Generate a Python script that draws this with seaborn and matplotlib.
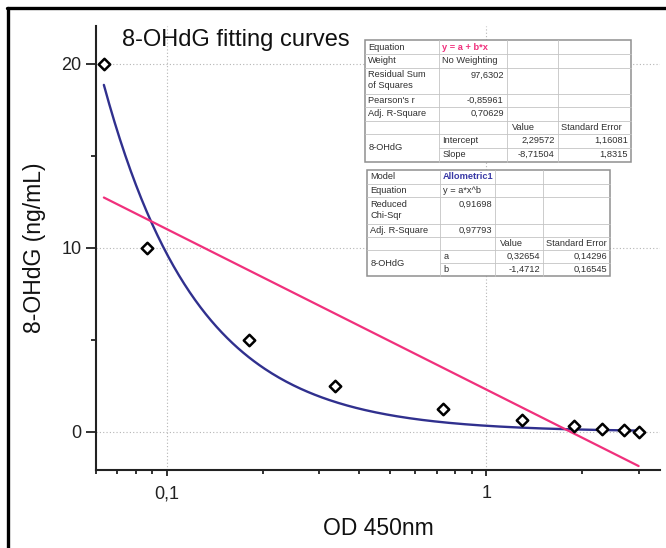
import numpy as np
import pandas as pd
import matplotlib
matplotlib.use("Agg")
import matplotlib.pyplot as plt
import seaborn as sns
from matplotlib import ticker
from matplotlib.patches import Rectangle
from matplotlib.lines import Line2D
from matplotlib.transforms import Affine2D

# ---------------- data ----------------
od450 = [0.0635, 0.0866, 0.181, 0.335, 0.734, 1.29, 1.88, 2.30, 2.70, 3.00]
conc = [20, 10, 5, 2.5, 1.25, 0.625, 0.3125, 0.156, 0.078, 0]

# fit parameters (as printed in the tables)
lin_intercept = 2.29572
lin_slope = -8.71504
allo_a = 0.32654
allo_b = -1.4712

x_ticks = [0.1, 1]
x_tick_labels = ["0,1", "1"]
y_ticks = [0, 10, 20]

# table 1 (linear fit)
t1_labels = ["Equation", "Weight", "Residual Sum\nof Squares", "Pearson's r", "Adj. R-Square"]
t1_values = ["y = a + b*x", "No Weighting", "97,6302", "-0,85961", "0,70629"]
t1_head = ["Value", "Standard Error"]
t1_group = "8-OHdG"
t1_pnames = ["Intercept", "Slope"]
t1_pvalues = ["2,29572", "-8,71504"]
t1_perrors = ["1,16081", "1,8315"]

# table 2 (allometric fit)
t2_labels = ["Model", "Equation", "Reduced\nChi-Sqr", "Adj. R-Square"]
t2_values = ["Allometric1", "y = a*x^b", "0,91698", "0,97793"]
t2_head = ["Value", "Standard Error"]
t2_group = "8-OHdG"
t2_pnames = ["a", "b"]
t2_pvalues = ["0,32654", "-1,4712"]
t2_perrors = ["0,14296", "0,16545"]

PINK = "#f0307c"
NAVY = "#30308e"
W, H = 666, 548

sns.set_theme(style="white")
plt.rcParams["font.family"] = ["Liberation Sans", "DejaVu Sans"]

fig = plt.figure(figsize=(W / 100, H / 100), dpi=100)
ax = fig.add_axes([96 / W, 1 - 469.5 / H, 564 / W, 443.5 / H])
ax.set_xscale("log")

x_fit = np.logspace(np.log10(min(od450)), np.log10(max(od450)), 300)
fit_df = pd.DataFrame({
    "x": x_fit,
    "allometric": allo_a * x_fit ** allo_b,
    "linear": lin_intercept + lin_slope * np.log10(x_fit),
})
pts_df = pd.DataFrame({"od": od450, "conc": conc})

ax.grid(True, which="major", ls=(0, (1, 2)), color="#b5b5b5", lw=0.8)
ax.set_axisbelow(True)

sns.lineplot(data=fit_df, x="x", y="allometric", color=NAVY, lw=1.7, ax=ax, zorder=3)
sns.lineplot(data=fit_df, x="x", y="linear", color=PINK, lw=1.6, ax=ax, zorder=3)
sns.scatterplot(data=pts_df, x="od", y="conc", marker="D", s=34, facecolor="white",
                edgecolor="black", linewidth=1.8, ax=ax, zorder=5)

ax.set_xlim(0.06, 3.5)
ax.set_ylim(-2.05, 22.05)

ax.xaxis.set_major_locator(ticker.FixedLocator(x_ticks))
ax.xaxis.set_major_formatter(ticker.FixedFormatter(x_tick_labels))
ax.xaxis.set_minor_locator(ticker.LogLocator(base=10, subs=np.arange(2, 10)))
ax.xaxis.set_minor_formatter(ticker.NullFormatter())
ax.yaxis.set_major_locator(ticker.FixedLocator(y_ticks))
ax.yaxis.set_minor_locator(ticker.FixedLocator([5, 15]))

ax.tick_params(axis="y", which="major", direction="out", length=7, width=1.3, pad=3.5,
               labelsize=13, left=True, colors="#222222")
ax.tick_params(axis="y", which="minor", direction="out", length=3.6, width=1.3, left=True,
               colors="#222222")
ax.tick_params(axis="x", which="major", direction="out", length=4.2, width=1.3, pad=7,
               labelsize=13, bottom=True, colors="#222222")
ax.tick_params(axis="x", which="minor", direction="out", length=3.2, width=1.3, bottom=True,
               colors="#222222")

for s in ["top", "right"]:
    ax.spines[s].set_visible(False)
for s in ["left", "bottom"]:
    ax.spines[s].set_linewidth(1.5)
    ax.spines[s].set_color("#222222")

ax.set_xlabel("OD 450nm", fontsize=16.5, color="#111111")
ax.set_ylabel("8-OHdG (ng/mL)", fontsize=16.5, color="#111111")
ax.xaxis.set_label_coords(0.5, -0.106)
ax.yaxis.set_label_coords(-0.088, 0.5)

# pixel transform (x from left, y from top)
PX = Affine2D().scale(1 / W, -1 / H).translate(0, 1) + fig.transFigure

fig.text(122, 46, "8-OHdG fitting curves", fontsize=17, va="baseline", ha="left",
         color="#111111", transform=PX)

# figure frame (top and left edges)
fig.add_artist(Line2D([8, 8], [8, H], lw=2.4, color="black", transform=PX))
fig.add_artist(Line2D([7, W], [8, 8], lw=2.4, color="black", transform=PX))

FS = 6.7
TXT = "#303030"


def txt(x, y, s, ha="left", **kw):
    kw.setdefault("color", TXT)
    fig.text(x, y, s, fontsize=FS, ha=ha, va="center", transform=PX, zorder=6, **kw)


def draw_table(cols, rows, labels, values, head, group, pnames, pvals, perrs,
               double_idx, value_left, value_styles):
    x0, x1 = cols[0], cols[-1]
    y0, y1 = rows[0], rows[-1]
    fig.add_artist(Rectangle((x0, y0), x1 - x0, y1 - y0, transform=PX, facecolor="white",
                             edgecolor="#8f8f8f", lw=1.1, zorder=4))
    inner = dict(color="#c4c4c4", lw=0.6, transform=PX, zorder=5)
    for c in cols[1:-1]:
        fig.add_artist(Line2D([c, c], [y0, y1], **inner))
    nrow = len(rows) - 1
    for i, r in enumerate(rows[1:-1], start=1):
        start = cols[1] if i == nrow - 1 else x0
        fig.add_artist(Line2D([start, x1], [r, r], **inner))
    pad = 3.2
    for i, (lab, val) in enumerate(zip(labels, values)):
        top, bot = rows[i], rows[i + 1]
        if i == double_idx:
            l1, l2 = lab.split("\n")
            txt(cols[0] + pad, top + 7.4, l1)
            txt(cols[0] + pad, top + 18.4, l2)
            yv = top + 7.4
        else:
            txt(cols[0] + pad, (top + bot) / 2, lab)
            yv = (top + bot) / 2
        style = value_styles.get(i, {})
        if i in value_left:
            txt(cols[1] + pad, yv, val, **style)
        else:
            txt(cols[2] - pad, yv, val, ha="right", **style)
    hi = len(labels)
    yh = (rows[hi] + rows[hi + 1]) / 2
    txt(cols[2] + 5, yh, head[0])
    txt(cols[3] + 3, yh, head[1])
    txt(cols[0] + pad, (rows[hi + 1] + rows[hi + 3]) / 2, group)
    for k in range(2):
        yk = (rows[hi + 1 + k] + rows[hi + 2 + k]) / 2
        txt(cols[1] + pad, yk, pnames[k])
        txt(cols[3] - pad, yk, pvals[k], ha="right")
        txt(cols[4] - pad, yk, perrs[k], ha="right")


draw_table([365, 439, 507, 558, 631],
           [40, 54, 67.5, 93.5, 107, 120.5, 134, 147.5, 161.5],
           t1_labels, t1_values, t1_head, t1_group, t1_pnames, t1_pvalues, t1_perrors,
           double_idx=2, value_left={0, 1},
           value_styles={0: dict(color=PINK, fontweight="bold")})

draw_table([367, 440, 495, 543, 610],
           [169.5, 183.5, 197, 224, 236.7, 250, 263, 276],
           t2_labels, t2_values, t2_head, t2_group, t2_pnames, t2_pvalues, t2_perrors,
           double_idx=2, value_left={0, 1},
           value_styles={0: dict(color="#3a3aa6", fontweight="bold")})

fig.savefig("out.png", dpi=100)
